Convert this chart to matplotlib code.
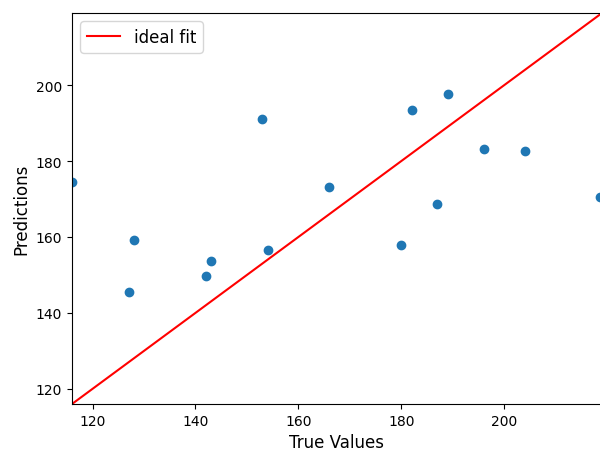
import numpy as np
import matplotlib
matplotlib.use("Agg")
import matplotlib.pyplot as plt

# values
true_values = [116, 127, 128, 142, 143, 153, 154, 166, 180, 182, 187, 189, 196, 204, 218.6]
predictions = [174.5, 145.5, 159.3, 149.7, 153.8, 191.1, 156.6, 173.2, 157.9, 193.4,
               168.6, 197.6, 183.2, 182.6, 170.6]
axis_range = [116, 219]

fig = plt.figure(figsize=(6, 4.52), dpi=100)
ax = fig.add_axes([0.12, 0.104, 0.8833, 0.865])

ax.scatter(true_values, predictions)
ax.plot(axis_range, axis_range, color='red', label='ideal fit')

ax.set_xlim(axis_range)
ax.set_ylim(axis_range)
ax.set_xlabel('True Values', fontsize=12)
ax.set_ylabel('Predictions', fontsize=12)
ax.legend(loc='upper left', fontsize=12)

fig.savefig('out.png', dpi=100)
